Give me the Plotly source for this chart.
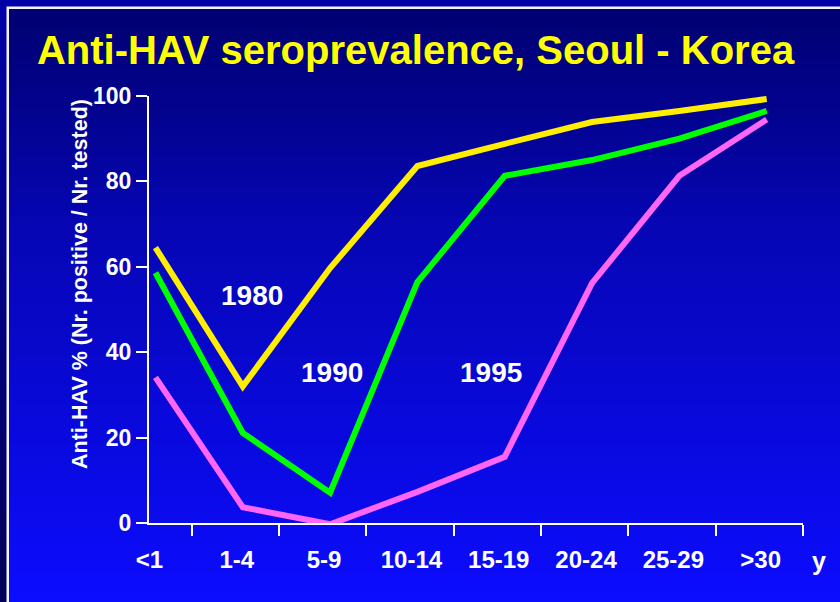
import plotly.graph_objects as go

# ---------------- data ----------------
categories = ["<1", "1-4", "5-9", "10-14", "15-19", "20-24", "25-29", ">30"]
y1980 = [64.5, 32.0, 59.7, 83.6, 88.8, 93.9, 96.5, 99.3]
y1990 = [58.6, 21.1, 7.1, 56.4, 81.3, 85.0, 90.0, 96.5]
y1995 = [34.1, 3.7, -0.3, 7.3, 15.5, 56.2, 81.3, 94.5]
series_names = ["1980", "1990", "1995"]
y_ticks = [0, 20, 40, 60, 80, 100]
title_text = "Anti-HAV seroprevalence, Seoul - Korea"
y_title = "Anti-HAV % (Nr. positive / Nr. tested)"
x_unit = "y"

# ---------------- layout constants ----------------
W, H = 840, 602
ML, MR, MT, MB = 149, 37, 96, 79
PW, PH = W - ML - MR, H - MT - MB
FONT = "Liberation Sans, Arial, Helvetica, sans-serif"
XR = [-0.074, 7.416]
MINOR_SHIFT = 0.414


def xp(px):
    return (px - ML) / PW


def yp(py):
    return (H - MB - py) / PH


def lerp_stops(stops, y):
    for (y0, c0), (y1, c1) in zip(stops[:-1], stops[1:]):
        if y <= y1:
            t = (y - y0) / (y1 - y0)
            t = max(0.0, min(1.0, t))
            return tuple(round(a + (b - a) * t) for a, b in zip(c0, c1))
    return stops[-1][1]


shapes = []
outer_stops = [(0, (0, 0, 170)), (602, (0, 0, 88))]
inner_stops = [(9, (0, 0, 112)), (235, (6, 6, 182)), (602, (12, 12, 255))]
N = 60
step = H / N
for k in range(N):
    y0 = k * step
    y1 = y0 + step + 1
    c = lerp_stops(outer_stops, y0 + step / 2)
    shapes.append(dict(type="rect", xref="paper", yref="paper", layer="below",
                       x0=xp(-5), x1=xp(W + 5), y0=yp(y0), y1=yp(y1),
                       fillcolor="rgb(%d,%d,%d)" % c, line=dict(width=0)))
shapes.append(dict(type="rect", xref="paper", yref="paper", layer="below",
                   x0=xp(6.5), x1=xp(W + 5), y0=yp(6.5), y1=yp(H + 5),
                   fillcolor="#F4F4F4", line=dict(width=0)))
top = 9
step = (H - top) / N
for k in range(N):
    y0 = top + k * step
    y1 = y0 + step + 1
    c = lerp_stops(inner_stops, y0 + step / 2)
    shapes.append(dict(type="rect", xref="paper", yref="paper", layer="below",
                       x0=xp(9), x1=xp(W + 5), y0=yp(y0), y1=yp(min(y1, H + 5)),
                       fillcolor="rgb(%d,%d,%d)" % c, line=dict(width=0)))

xs = list(range(len(categories)))
colors = ["#FFEE00", "#00FF00", "#FF66F5"]

fig = go.Figure()
for name, ys, col in zip(series_names, [y1980, y1990, y1995], colors):
    fig.add_trace(go.Scatter(x=xs, y=ys, mode="lines", name=name,
                             line=dict(color=col, width=6), showlegend=False,
                             hoverinfo="skip"))

annotations = []
label_pos = [(1.111, 53.2), (2.018, 35.2), (3.846, 35.2)]
for name, (ax, ay) in zip(series_names, label_pos):
    annotations.append(dict(x=ax, y=ay, xref="x", yref="y", text=name, showarrow=False,
                            xanchor="center", yanchor="middle",
                            font=dict(family=FONT, size=28, color="white", weight="bold")))
annotations.append(dict(x=xp(80), y=yp(284), xref="paper", yref="paper", text=y_title,
                        textangle=-90, showarrow=False, xanchor="center", yanchor="middle",
                        font=dict(family=FONT, size=21.5, color="white", weight="bold")))
annotations.append(dict(x=xp(819), y=yp(561), xref="paper", yref="paper", text=x_unit,
                        showarrow=False, xanchor="center", yanchor="middle",
                        font=dict(family=FONT, size=25, color="white", weight="bold")))

fig.update_layout(
    width=W, height=H,
    margin=dict(l=ML, r=MR, t=MT, b=MB, pad=0),
    paper_bgcolor="#000070",
    plot_bgcolor="rgba(0,0,0,0)",
    shapes=shapes,
    annotations=annotations,
    title=dict(text=title_text, x=415.5 / W, xanchor="center", xref="container",
               y=1 - 50 / H, yanchor="middle", yref="container",
               font=dict(family=FONT, size=40, color="#FFFF00", weight="bold")),
    xaxis=dict(range=XR, showline=True, linecolor="white", linewidth=2,
               showgrid=False, zeroline=False,
               tickmode="array", tickvals=xs, ticktext=categories,
               ticklabelshift=-6,
               ticks="outside", ticklen=14, tickcolor="rgba(0,0,0,0)",
               tickfont=dict(family=FONT, size=24, color="white", weight="bold"),
               minor=dict(tickmode="array", tickvals=[i + MINOR_SHIFT for i in xs],
                          ticks="outside", ticklen=11, tickwidth=2, tickcolor="white",
                          showgrid=False)),
    yaxis=dict(range=[0, 100], showline=True, linecolor="white", linewidth=2,
               showgrid=False, zeroline=False,
               tickmode="array", tickvals=y_ticks,
               ticks="outside", ticklen=11, tickwidth=2, tickcolor="white",
               tickfont=dict(family=FONT, size=23, color="white", weight="bold")),
)

fig.write_html("out.html", config={"displayModeBar": False},
               post_script="document.body.style.margin='0px';document.body.style.overflow='hidden';")
